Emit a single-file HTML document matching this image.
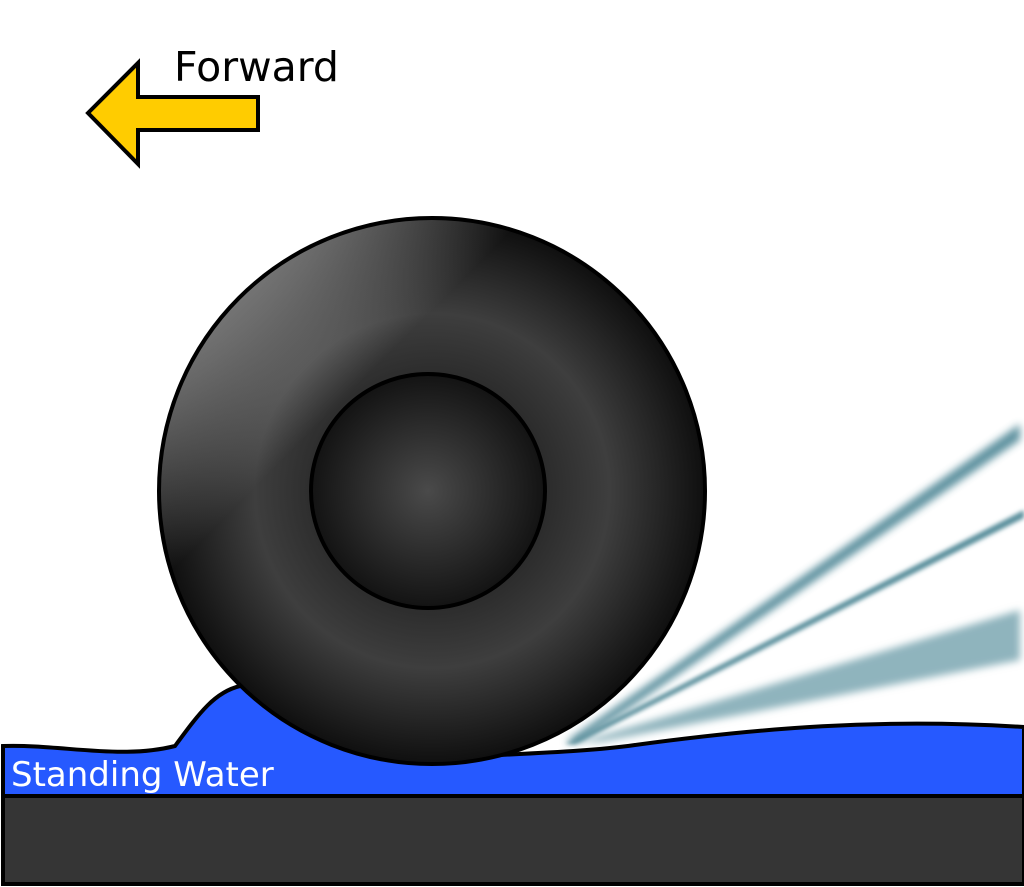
<!DOCTYPE html>
<html><head><meta charset="utf-8"><style>
html,body{margin:0;padding:0;background:#fff;width:1024px;height:887px;overflow:hidden}
svg{display:block}
text{font-family:"DejaVu Sans","Liberation Sans",sans-serif}
</style></head><body>
<svg width="1024" height="887" viewBox="0 0 1024 887">
<defs>
<radialGradient id="tireG" cx="432" cy="491" r="273" gradientUnits="userSpaceOnUse">
<stop offset="0.3" stop-color="#222"/>
<stop offset="0.65" stop-color="#3e3e3e"/>
<stop offset="1" stop-color="#0f0f0f"/>
</radialGradient>
<linearGradient id="shine" x1="210" y1="260" x2="420" y2="470" gradientUnits="userSpaceOnUse">
<stop offset="0" stop-color="#fff" stop-opacity="0.55"/>
<stop offset="0.25" stop-color="#fff" stop-opacity="0.35"/>
<stop offset="0.65" stop-color="#fff" stop-opacity="0"/>
</linearGradient>
<radialGradient id="hubG" cx="428" cy="491" r="117" gradientUnits="userSpaceOnUse">
<stop offset="0" stop-color="#4a4a4a"/>
<stop offset="1" stop-color="#131313"/>
</radialGradient>
<filter id="blur" x="-20%" y="-50%" width="140%" height="200%"><feGaussianBlur stdDeviation="4"/></filter>
<filter id="blur2" x="-20%" y="-50%" width="140%" height="200%"><feGaussianBlur stdDeviation="2"/></filter>
</defs>

<g>
<polygon points="565,742 1020,424 1020,440 580,742" fill="#4f8796" filter="url(#blur)" opacity="0.9"/>
<polygon points="565,744 1024,510 1024,518 575,744" fill="#5a8f9c" filter="url(#blur2)"/>
<polygon points="580,742 1020,610 1020,660 600,742" fill="#8fb4bd" filter="url(#blur)"/>
</g>

<path d="M3,746 C60,744 120,760 175,746 C200,712 215,692 240,686 L500,700 L500,755 C560,752 600,750 635,745 C760,728 880,718 1024,727 L1024,796 L3,796 Z" fill="#2659ff" stroke="#000" stroke-width="4"/>

<rect x="3" y="796" width="1021" height="88" fill="#353535" stroke="#000" stroke-width="4"/>

<g>
<circle cx="432" cy="491" r="273" fill="url(#tireG)" stroke="#000" stroke-width="4"/>
<circle cx="432" cy="491" r="271" fill="url(#shine)"/>
<circle cx="428" cy="491" r="117" fill="url(#hubG)" stroke="#000" stroke-width="4"/>
</g>

<text x="11" y="786" font-size="34" fill="#fff">Standing Water</text>

<polygon points="88,113 138,63 138,97 258,97 258,130 138,130 138,164" fill="#ffcc00" stroke="#000" stroke-width="4" stroke-linejoin="miter"/>
<text x="174" y="81" font-size="41" fill="#000">Forward</text>
</svg>
</body></html>
